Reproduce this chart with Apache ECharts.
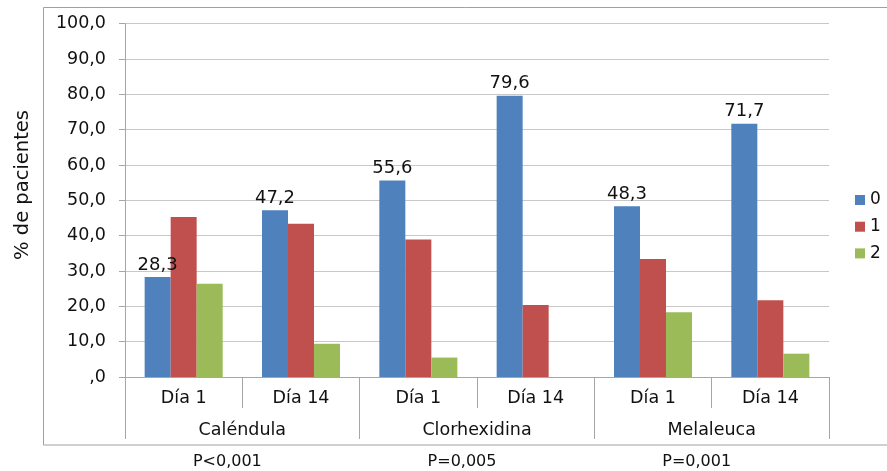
<!DOCTYPE html>
<html>
<head>
<meta charset="utf-8">
<script src="https://cdn.jsdelivr.net/npm/echarts@6/dist/echarts.min.js"></script>
<style>
html,body{margin:0;padding:0;background:#fff;}
#chart{width:887px;height:471px;}
</style>
</head>
<body>
<div id="chart"></div>
<script>
const categories = ['Día 1', 'Día 14', 'Día 1', 'Día 14', 'Día 1', 'Día 14'];
const groups = ['Caléndula', 'Clorhexidina', 'Melaleuca'];
const pValues = ['P<0,001', 'P=0,005', 'P=0,001'];
const seriesNames = ['0', '1', '2'];
const values0 = [28.3, 47.2, 55.6, 79.6, 48.3, 71.7];
const values1 = [45.3, 43.4, 38.9, 20.4, 33.4, 21.7];
const values2 = [26.4, 9.4, 5.5, 0, 18.3, 6.6];
const yTicks = [0, 10, 20, 30, 40, 50, 60, 70, 80, 90, 100];
const colors = ['#4F81BD', '#C0504D', '#9BBB59'];

const FONT = 'DejaVu Sans';
const fmt = v => v === 0 ? ',0' : v.toFixed(1).replace('.', ',');
const axisGray = '#a6a6a6';

const chart = echarts.init(document.getElementById('chart'), null, {renderer: 'canvas'});
chart.setOption({
  animation: false,
  backgroundColor: '#fff',
  textStyle: {fontFamily: FONT},
  color: colors,
  grid: {left: 125, right: 58, top: 23.7, bottom: 94, containLabel: false},
  legend: {
    orient: 'vertical', left: 855, top: 191.5, padding: 0,
    itemWidth: 10, itemHeight: 10, itemGap: 9.7,
    icon: 'rect',
    data: seriesNames,
    textStyle: {fontFamily: FONT, fontSize: 17, color: '#111'}
  },
  xAxis: [
    {
      type: 'category', data: categories, position: 'bottom',
      axisLine: {show: true, lineStyle: {color: axisGray, width: 1}},
      axisTick: {show: true, interval: 0, length: 31, lineStyle: {color: axisGray}},
      axisLabel: {interval: 0, margin: 12, fontFamily: FONT, fontSize: 17.5, color: '#111'}
    },
    {
      type: 'category', data: groups, position: 'bottom', offset: 31,
      axisLine: {show: false},
      axisTick: {show: true, interval: 0, length: 31, lineStyle: {color: axisGray}},
      axisLabel: {interval: 0, margin: 13, fontFamily: FONT, fontSize: 17.5, color: '#111'}
    },
    {
      type: 'category', data: pValues, position: 'bottom', offset: 70,
      axisLine: {show: false},
      axisTick: {show: false},
      axisLabel: {interval: 0, margin: 7, fontFamily: FONT, fontSize: 16, color: '#111', padding: [0, 30, 0, 0]}
    }
  ],
  yAxis: {
    type: 'value', min: yTicks[0], max: yTicks[yTicks.length - 1], interval: 10,
    axisLine: {show: true, lineStyle: {color: axisGray}},
    axisTick: {show: true, length: 6, inside: false, lineStyle: {color: axisGray}},
    splitLine: {show: true, lineStyle: {color: '#c8c8c8', width: 1}},
    axisLabel: {formatter: fmt, margin: 19, fontFamily: FONT, fontSize: 17.5, color: '#111'}
  },
  graphic: [
    {
      type: 'rect', z: -1, silent: true,
      shape: {x: 43.5, y: 7.5, width: 900, height: 437.5},
      style: {fill: 'none', stroke: '#a0a0a0', lineWidth: 1}
    },
    {
      type: 'text', x: 23, y: 185, rotation: Math.PI / 2,
      style: {text: '% de pacientes', fontFamily: FONT, fontSize: 19.5, fill: '#111',
              textAlign: 'center', textVerticalAlign: 'middle'}
    }
  ],
  series: [
    {
      name: seriesNames[0], type: 'bar', data: values0, barGap: '0%', barCategoryGap: '33.5%',
      label: {show: true, position: 'top', distance: 3, formatter: p => fmt(p.value),
              fontFamily: FONT, fontSize: 18, color: '#111'}
    },
    {name: seriesNames[1], type: 'bar', data: values1, barGap: '0%', barCategoryGap: '33.5%'},
    {name: seriesNames[2], type: 'bar', data: values2, barGap: '0%', barCategoryGap: '33.5%'}
  ]
});
</script>
</body>
</html>
